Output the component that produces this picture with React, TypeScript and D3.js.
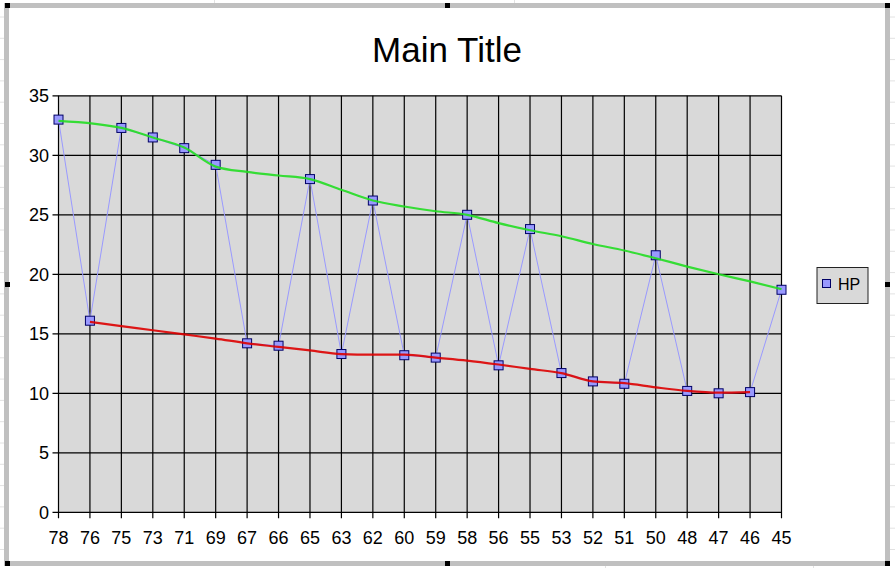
import React from "react";
import * as d3 from "d3";

const categories: string[] = ["78","76","75","73","71","69","67","66","65","63","62","60","59","58","56","55","53","52","51","50","48","47","46","45"];
const hpValues: number[] = [33.0,16.1,32.3,31.5,30.6,29.2,14.2,14.0,28.0,13.3,26.2,13.2,13.0,25.0,12.35,23.8,11.7,11.0,10.8,21.6,10.2,10.0,10.1,18.7];
// upper envelope (green), null where it has no vertex
const upperLine: (number | null)[] = [32.9,null,32.3,31.5,30.65,29.05,28.6,28.3,28.0,27.1,26.2,25.7,25.3,25.0,24.3,23.7,23.2,22.55,22.0,21.35,20.65,20.0,19.4,18.75];
// lower envelope (red)
const lowerLine: (number | null)[] = [null,16.0,15.65,15.3,14.95,14.6,14.2,13.9,13.6,13.3,13.25,13.25,13.0,12.75,12.42,12.05,11.7,11.0,10.85,10.5,10.2,10.05,10.1,null];
const yTicks: number[] = [0,5,10,15,20,25,30,35];
const title = "Main Title";
const legendLabel = "HP";

const W = 895, H = 568;
const plot = { left: 58.5, right: 781.5, top: 95.8, bottom: 512.3 };

export default function App() {
  const x = d3.scalePoint<string>().domain(categories).range([plot.left, plot.right]);
  const y = d3.scaleLinear().domain([0, 35]).range([plot.bottom, plot.top]);

  const hpLine = d3.line<number>().x((_, i) => x(categories[i])!).y((d) => y(d))(hpValues)!;
  const env = (vals: (number | null)[]) => {
    const pts = vals
      .map((v, i) => [categories[i], v] as [string, number | null])
      .filter((p) => p[1] !== null) as [string, number][];
    return d3
      .line<[string, number]>()
      .x((p) => x(p[0])!)
      .y((p) => y(p[1]))
      .curve(d3.curveMonotoneX)(pts)!;
  };

  const font = "'Liberation Sans', Arial, sans-serif";
  const sheetRows = d3.range(17, H, 21.3);

  return (
    <svg width={W} height={H} style={{ position: "absolute", left: 0, top: 0, background: "#fff" }} fontFamily={font}>
      {sheetRows.map((r, i) => (
        <g key={"r" + i} stroke="#e2e2e2" strokeWidth={1}>
          <line x1={0} x2={4} y1={r} y2={r} />
          <line x1={890} x2={895} y1={r} y2={r} />
        </g>
      ))}
      <line x1={214.5} x2={214.5} y1={0} y2={3} stroke="#e2e2e2" />
      <line x1={514.5} x2={514.5} y1={0} y2={3} stroke="#e2e2e2" />
      <line x1={605.5} x2={605.5} y1={566} y2={568} stroke="#e2e2e2" />
      <line x1={813.5} x2={813.5} y1={566} y2={568} stroke="#e2e2e2" />

      <rect x={6.5} y={5.5} width={881} height={558} fill="#fff" stroke="#c0c0c0" strokeWidth={5} />
      {[5, 445, 885].map((hx) =>
        [3, 282, 561].map((hy) =>
          hx === 445 && hy === 282 ? null : (
            <rect key={hx + "-" + hy} x={hx} y={hy} width={5} height={5} fill="#000" />
          )
        )
      )}

      <text x={447} y={62} textAnchor="middle" fontSize={35} fill="#000">{title}</text>

      <rect x={plot.left} y={plot.top} width={plot.right - plot.left} height={plot.bottom - plot.top} fill="#d9d9d9" />
      <g stroke="#000" strokeWidth={1.2}>
        {yTicks.map((t) => (
          <line key={"h" + t} x1={plot.left - 6} x2={plot.right} y1={y(t)} y2={y(t)} />
        ))}
        {categories.map((c) => (
          <line key={"v" + c} x1={x(c)} x2={x(c)} y1={plot.top} y2={plot.bottom + 6} />
        ))}
      </g>

      <g fontSize={18} fill="#000">
        {yTicks.map((t) => (
          <text key={"yl" + t} x={49} y={y(t)} dy="0.35em" textAnchor="end">{t}</text>
        ))}
        {categories.map((c) => (
          <text key={"xl" + c} x={x(c)} y={544} textAnchor="middle">{c}</text>
        ))}
      </g>

      <path d={hpLine} fill="none" stroke="#9999ff" strokeWidth={1} />
      {hpValues.map((v, i) => (
        <rect key={"m" + i} x={x(categories[i])! - 4.5} y={y(v) - 4.5} width={9} height={9} fill="#9999ff" stroke="#000066" strokeWidth={1} />
      ))}

      <path d={env(upperLine)} fill="none" stroke="#22dd22" strokeWidth={2.2} opacity={0.9} />
      <path d={env(lowerLine)} fill="none" stroke="#dd0000" strokeWidth={2.2} opacity={0.9} />

      <rect x={817} y={267.5} width={51} height={36} fill="#d9d9d9" stroke="#222" strokeWidth={1} />
      <rect x={822.5} y={279.5} width={8} height={8} fill="#9999ff" stroke="#000066" strokeWidth={1} />
      <text x={838} y={284} dy="0.35em" fontSize={16} fill="#000">{legendLabel}</text>
    </svg>
  );
}
